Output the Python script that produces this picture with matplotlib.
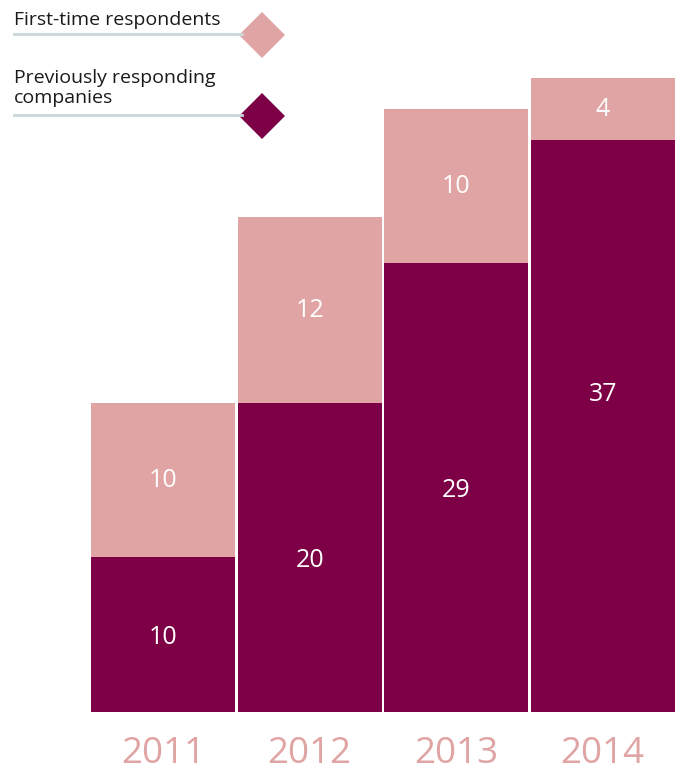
import matplotlib
matplotlib.use("Agg")
import matplotlib.pyplot as plt
from matplotlib.patches import Polygon
from matplotlib.lines import Line2D

years = ["2011", "2012", "2013", "2014"]
previous = [10, 20, 29, 37]
first_time = [10, 12, 10, 4]

DARK = "#7D0046"
LIGHT = "#E0A4A4"
LINE = "#C9D6DA"
W, H = 681, 774

plt.rcParams['font.family'] = ['Open Sans', 'DejaVu Sans']

fig = plt.figure(figsize=(W / 100, H / 100), dpi=100)

def fx(x):
    return x / W

def fy(y):
    return 1 - y / H

# bar axes in pixel placement
left_px, right_px, base_px, top_px = 90, 676, 712, 0
ax = fig.add_axes([fx(left_px), fy(base_px), (right_px - left_px) / W, (base_px - top_px) / H])
ax.set_xlim(-0.5, 3.5)
ax.set_ylim(0, 712 / 15.47)
ax.axis('off')

xs = list(range(len(years)))
width = 0.982
ax.bar(xs, previous, width=width, color=DARK, linewidth=0)
ax.bar(xs, first_time, bottom=previous, width=width, color=LIGHT, linewidth=0)

for x, p, f in zip(xs, previous, first_time):
    # the tallest dark segment has its label raised above centre, as in the original
    dark_y = p / 2 + (2.0 if p == max(previous) else -0.2)
    ax.text(x, dark_y, str(p), ha='center', va='center', color='white', fontsize=18)
    ax.text(x, p + f / 2 - 0.05, str(f), ha='center', va='center', color='white', fontsize=18)
    ax.text(x, -3.3, years[x], ha='center', va='baseline', color=LIGHT, fontsize=26.5,
            transform=ax.transData, clip_on=False)

# legend
def legend_item(line_y, text, text_y, color):
    fig.add_artist(Line2D([fx(14), fx(242)], [fy(line_y), fy(line_y)],
                          color=LINE, linewidth=2, transform=fig.transFigure))
    cx, cy, r = 262, line_y + 1, 23
    pts = [(fx(cx - r), fy(cy)), (fx(cx), fy(cy - r)), (fx(cx + r), fy(cy)), (fx(cx), fy(cy + r))]
    fig.add_artist(Polygon(pts, closed=True, facecolor=color, edgecolor='none',
                           transform=fig.transFigure))
    fig.text(fx(14), fy(text_y), text, ha='left', va='baseline', fontsize=14,
             color='#1a1a1a', linespacing=1.12)

legend_item(34, "First-time respondents", 25, LIGHT)
legend_item(115, "Previously responding\ncompanies", 103, DARK)

fig.savefig("out.png", dpi=100)
